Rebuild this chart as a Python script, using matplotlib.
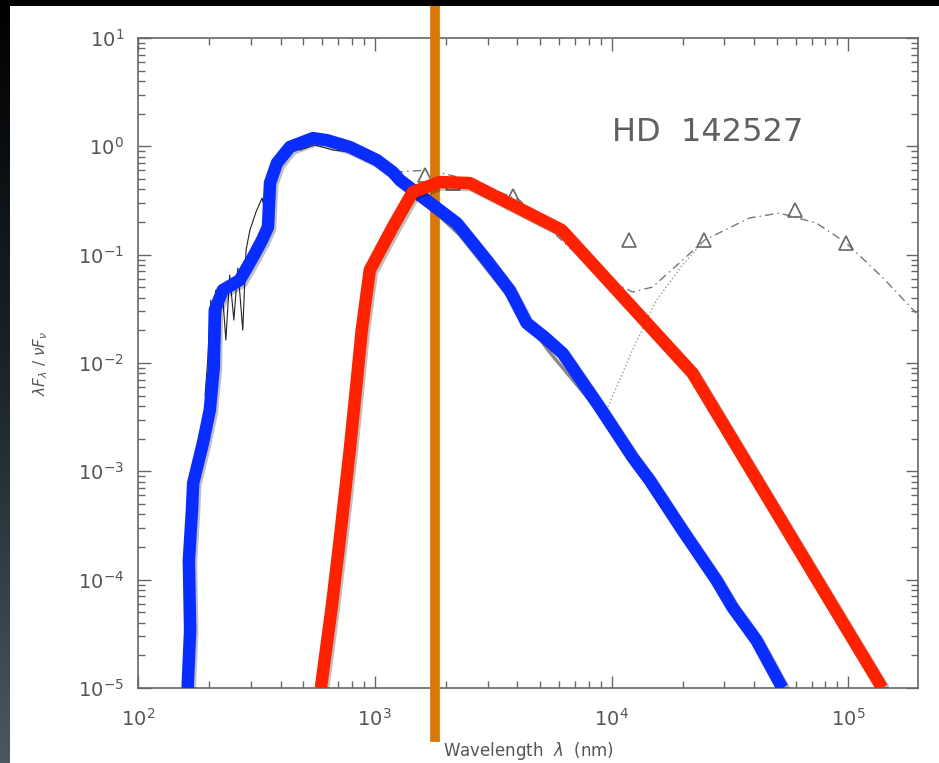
import numpy as np
import matplotlib
matplotlib.use("Agg")
import matplotlib.pyplot as plt
import matplotlib.patheffects as pe
from matplotlib.patches import Rectangle
from matplotlib.ticker import LogLocator, NullFormatter

# blue model (nm, lambda F_lambda / nu F_nu)
blue_x = [162, 166, 164, 169, 171, 188, 201, 209, 211, 228, 269, 306, 334, 354, 361, 386,
          438, 548, 627, 784, 1020, 1191, 1275, 1549, 2218, 2969, 3711, 4380, 5217, 6213,
          8901, 12265, 14468, 19934, 27733, 32400, 40910, 52660]
blue_y = [1e-5, 3.42e-5, 1.51e-4, 4.38e-4, 7.78e-4, 1.82e-3, 3.67e-3, 9.16e-3, 0.0308,
          0.0471, 0.0582, 0.0951, 0.136, 0.180, 0.458, 0.701, 0.986, 1.19, 1.14, 0.986,
          0.747, 0.579, 0.489, 0.355, 0.196, 0.0891, 0.0471, 0.0234, 0.0173, 0.0123,
          3.92e-3, 1.35e-3, 8.30e-4, 2.86e-4, 9.89e-5, 5.57e-5, 2.76e-5, 1e-5]

# red model
red_x = [592, 658, 711, 784, 840, 881, 953, 1191, 1446, 1880, 2517, 6152, 21970, 139000]
red_y = [1e-5, 5.57e-5, 2.32e-4, 1.57e-3, 6.95e-3, 0.0201, 0.0721, 0.180, 0.378, 0.468,
         0.458, 0.169, 8.07e-3, 1e-5]

# observed spectrum (thin black)
spec_x = [192, 197, 203, 207, 213, 220, 226, 235, 244, 254, 264, 277, 286, 297, 315, 334,
          347, 361, 382, 405, 430, 483, 558, 665, 784, 953, 1157]
spec_y = [5.05e-3, 0.0106, 0.0381, 0.0146, 0.0471, 0.0118, 0.0524, 0.0163, 0.0648, 0.0249,
          0.0752, 0.0201, 0.110, 0.169, 0.247, 0.333, 0.232, 0.440, 0.543, 0.716, 1.03,
          0.925, 1.03, 0.925, 0.886, 0.716, 0.579]

# photosphere (gray)
phot_x = [438, 586, 784, 1050, 1275, 1706, 2284, 3368, 5476, 8901]
phot_y = [1.03, 1.14, 0.964, 0.672, 0.458, 0.275, 0.152, 0.0524, 0.0126, 3.52e-3]

# dashed total model
dash_x = [1214, 1706, 2517, 4090, 6152, 8901, 12270, 14890, 19950, 24680, 38210, 51170,
          73280, 98100, 139000, 193600]
dash_y = [0.579, 0.604, 0.489, 0.319, 0.136, 0.0648, 0.0452, 0.0502, 0.0891, 0.136, 0.218,
          0.242, 0.196, 0.128, 0.0621, 0.0289]

# dotted disk component
dot_x = [9525, 10810, 12270, 15490, 19950, 24680]
dot_y = [3.67e-3, 6.95e-3, 0.0132, 0.0381, 0.0802, 0.136]

# photometry triangles
tri_x = [1626, 2134, 3822, 11910, 24680, 59740, 98100]
tri_y = [0.543, 0.458, 0.348, 0.136, 0.136, 0.258, 0.128]

marker_wl = 1791

W, H = 939, 763
fig = plt.figure(figsize=(W / 100, H / 100), dpi=100)
fig.patch.set_facecolor("white")

# dark frame strips
grad = np.linspace(0, 1, 256).reshape(-1, 1)
bax = fig.add_axes([0, 0, 10 / W, 1])
bax.imshow(grad, aspect="auto", cmap=matplotlib.colors.LinearSegmentedColormap.from_list(
    "edge", ["#000000", "#1c252c", "#4a5860"]), extent=[0, 1, 0, 1], origin="upper")
bax.axis("off")
fig.patches.append(Rectangle((0, 1 - 6 / H), 1, 6 / H, transform=fig.transFigure,
                             facecolor="black", edgecolor="none", zorder=0))

ax = fig.add_axes([138 / W, 1 - 688 / H, 780 / W, 650 / H])
ax.set_xscale("log")
ax.set_yscale("log")
ax.set_xlim(100, 1.97e5)
ax.set_ylim(1e-5, 10)

gray = "#555555"
ax.plot(phot_x, phot_y, color="#888888", lw=2.5, zorder=2)
ax.plot(spec_x, spec_y, color="#222222", lw=0.8, zorder=2)
ax.plot(dash_x, dash_y, color="#777777", lw=1.0, ls=(0, (6, 3, 1, 3)), zorder=2)
ax.plot(dot_x, dot_y, color="#999999", lw=1.0, ls=":", zorder=2)
ax.plot(tri_x, tri_y, ls="none", marker="^", mfc="none", mec="#666666", ms=10, mew=1.2,
        zorder=2)

shadow = [pe.SimpleLineShadow(offset=(1.5, -1.5), alpha=0.25), pe.Normal()]
ax.axvline(marker_wl, ymin=-0.075, ymax=1.06, color="#d9770a", lw=7, clip_on=False,
           zorder=3)
ax.plot(blue_x, blue_y, color="#0a2dff", lw=9, solid_capstyle="butt", zorder=4,
        path_effects=shadow)
ax.plot(red_x, red_y, color="#ff2200", lw=9, solid_capstyle="butt", zorder=5,
        path_effects=shadow)

ax.text(0.608, 0.854, "HD  142527", transform=ax.transAxes, fontsize=23, color="#606060",
        va="center", ha="left")

for s in ax.spines.values():
    s.set_color("#666666")
    s.set_linewidth(1.2)
ax.xaxis.set_minor_locator(LogLocator(base=10, subs=np.arange(2, 10)))
ax.yaxis.set_minor_locator(LogLocator(base=10, subs=np.arange(2, 10)))
ax.xaxis.set_minor_formatter(NullFormatter())
ax.yaxis.set_minor_formatter(NullFormatter())
ax.tick_params(which="both", direction="in", top=True, right=True, colors="#666666",
               labelcolor=gray, labelsize=14)
ax.tick_params(which="major", length=9, width=1)
ax.tick_params(which="minor", length=5, width=1)
ax.tick_params(axis="x", which="major", pad=14)
ax.tick_params(axis="y", which="major", pad=10)

ax.set_xlabel(r"Wavelength  $\lambda$  (nm)", fontsize=12, color=gray, labelpad=8)
ax.set_ylabel(r"$\lambda F_\lambda\ /\ \nu F_\nu$", fontsize=11, color=gray, labelpad=20)

fig.savefig("out.png", dpi=100, facecolor="white")
